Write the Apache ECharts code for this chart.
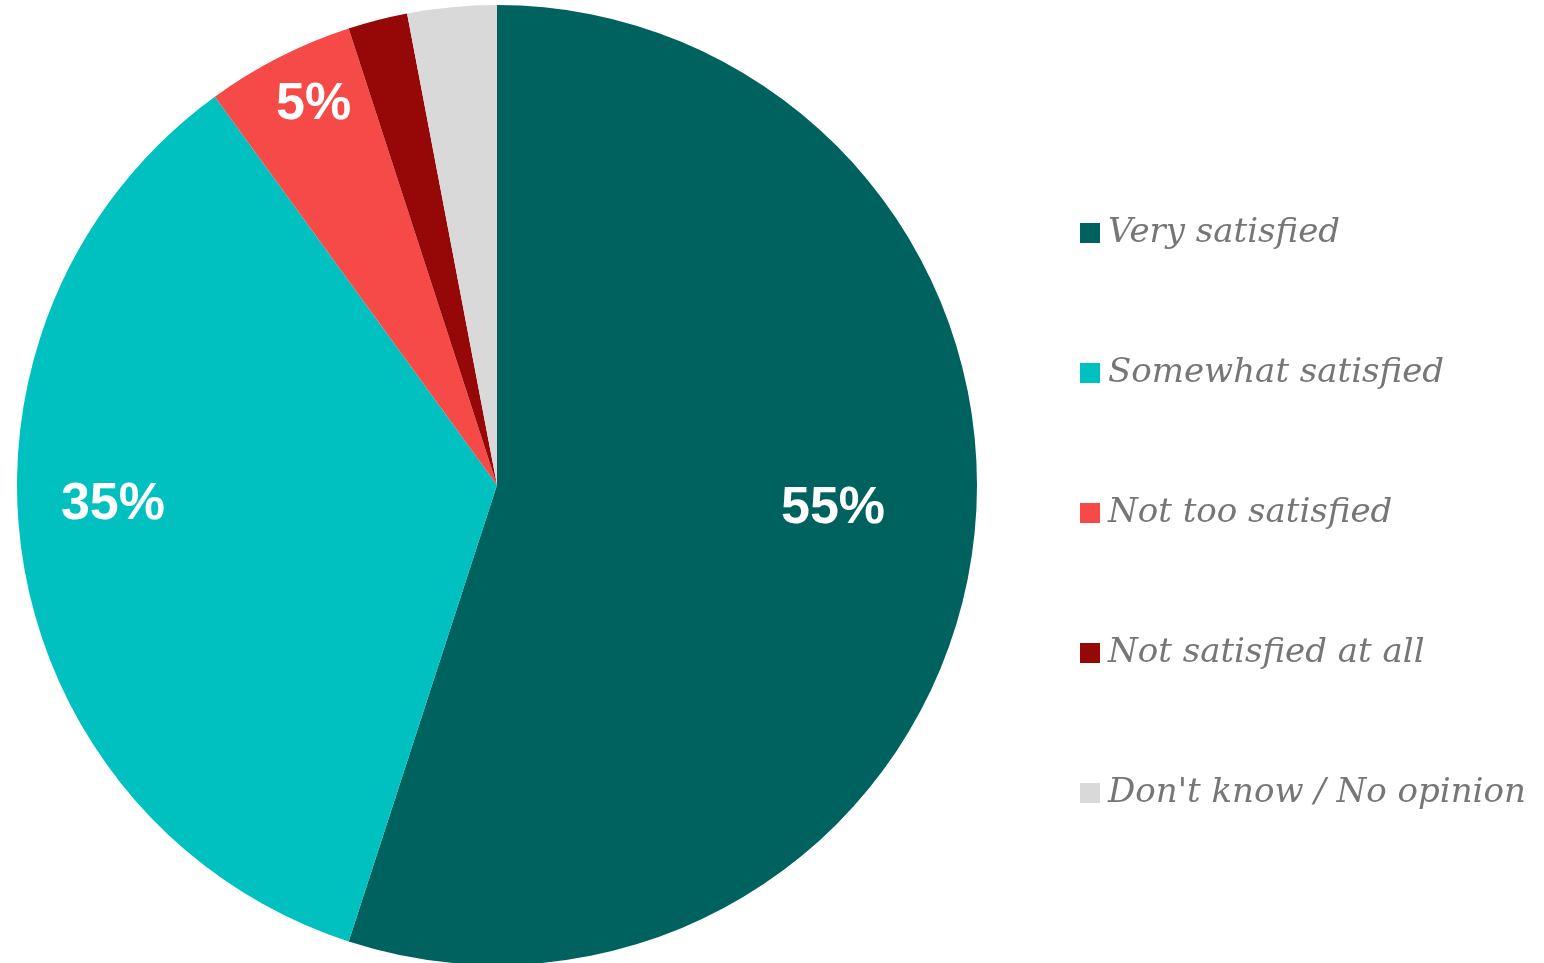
<!DOCTYPE html>
<html>
<head>
<meta charset="utf-8">
<script src="https://cdn.jsdelivr.net/npm/echarts@6/dist/echarts.min.js"></script>
<style>
html,body{margin:0;padding:0;background:#fff;}
#chart{width:1544px;height:963px;}
</style>
</head>
<body>
<div id="chart"></div>
<script>
const categories = ["Very satisfied", "Somewhat satisfied", "Not too satisfied", "Not satisfied at all", "Don't know / No opinion"];
const values = [55, 35, 5, 2, 3];
const showLabel = [true, true, true, false, false];

const colors = ["#00625F", "#00C0C0", "#F54A48", "#960808", "#D9D9D9"];
const labelOffsets = [[96, -14], [-144, -18], [-73, -164], [0, 0], [0, 0]];

const chart = echarts.init(document.getElementById('chart'));
const data = categories.map((c, i) => ({
  name: c,
  value: values[i],
  itemStyle: { color: colors[i] },
  label: { show: showLabel[i], offset: labelOffsets[i] }
}));

chart.setOption({
  animation: false,
  legend: {
    orient: 'vertical',
    left: 1075,
    top: 211,
    itemWidth: 20,
    itemHeight: 20,
    itemGap: 106,
    icon: 'rect',
    data: categories,
    textStyle: {
      fontFamily: 'DejaVu Serif',
      fontStyle: 'italic',
      fontSize: 34,
      color: '#767676',
      lineHeight: 34,
      padding: [0, 0, 0, 3]
    }
  },
  series: [{
    type: 'pie',
    center: [497, 485],
    radius: [0, 480],
    startAngle: 90,
    clockwise: true,
    avoidLabelOverlap: false,
    label: {
      position: 'inside',
      formatter: '{c}%',
      color: '#fff',
      fontFamily: 'Liberation Sans',
      fontWeight: 'bold',
      fontSize: 52
    },
    labelLine: { show: false },
    emphasis: { disabled: true },
    itemStyle: { borderWidth: 0 },
    data: data
  }]
});
</script>
</body>
</html>
